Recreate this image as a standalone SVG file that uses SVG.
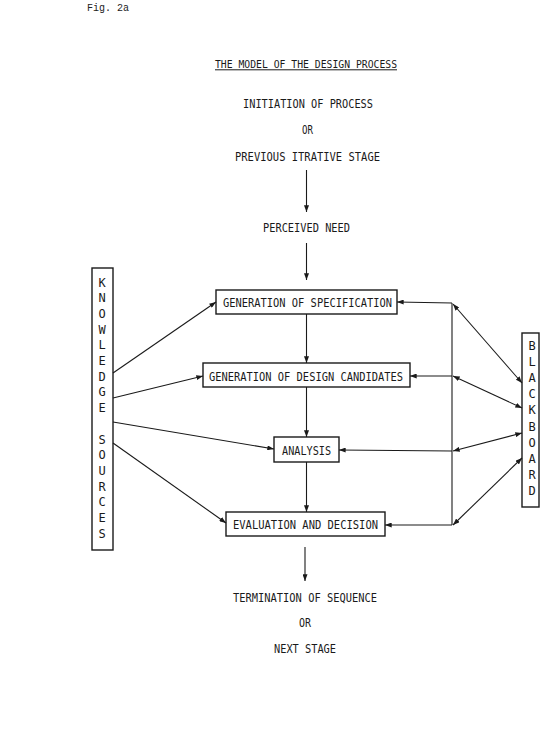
<svg xmlns="http://www.w3.org/2000/svg" width="540" height="742" viewBox="0 0 540 742">
<style>
  .t { font-family: "DejaVu Sans Mono", "Liberation Mono", monospace; font-size: 12px; fill: #1a1a1a; }
  .tt { font-family: "DejaVu Sans Mono", "Liberation Mono", monospace; font-size: 10.5px; fill: #1a1a1a; }
  .fig { font-family: "Liberation Mono", "Courier New", monospace; font-size: 10.5px; fill: #222; }
  .col { font-family: "DejaVu Sans Mono", "Liberation Mono", monospace; font-size: 12px; fill: #1a1a1a; text-anchor: middle; }
  .box { fill: #fff; stroke: #1a1a1a; stroke-width: 1.4; }
  .ln { fill: none; stroke: #1a1a1a; stroke-width: 1.1; }
</style>
<defs>
  <marker id="ah" viewBox="0 0 8 6" refX="8" refY="3" markerWidth="7" markerHeight="5" markerUnits="userSpaceOnUse" orient="auto-start-reverse">
    <path d="M0,0 L8,3 L0,6 z" fill="#1a1a1a"/>
  </marker>
</defs>
<rect width="540" height="742" fill="#fff"/>

<g id="fig-label"><text class="fig" x="87" y="11" textLength="42" lengthAdjust="spacingAndGlyphs">Fig. 2a</text></g>

<g id="title">
  <text class="tt" x="215" y="67.5" textLength="182" lengthAdjust="spacingAndGlyphs">THE MODEL OF THE DESIGN PROCESS</text>
  <line x1="215" y1="69.8" x2="397" y2="69.8" stroke="#1a1a1a" stroke-width="1"/>
</g>

<g id="start">
  <text class="t" x="243" y="107.5" textLength="130" lengthAdjust="spacingAndGlyphs">INITIATION OF PROCESS</text>
  <text class="t" x="302" y="133.5" textLength="11" lengthAdjust="spacingAndGlyphs">OR</text>
  <text class="t" x="235" y="160.5" textLength="145" lengthAdjust="spacingAndGlyphs">PREVIOUS ITRATIVE STAGE</text>
</g>

<g id="need"><text class="t" x="263" y="232" textLength="87" lengthAdjust="spacingAndGlyphs">PERCEIVED NEED</text></g>

<g id="gen-spec">
  <rect class="box" x="216" y="290" width="181" height="24"/>
  <text class="t" x="223" y="307" textLength="169" lengthAdjust="spacingAndGlyphs">GENERATION OF SPECIFICATION</text>
</g>

<g id="gen-design">
  <rect class="box" x="203" y="363" width="207" height="24"/>
  <text class="t" x="209" y="380.5" textLength="194" lengthAdjust="spacingAndGlyphs">GENERATION OF DESIGN CANDIDATES</text>
</g>

<g id="analysis">
  <rect class="box" x="274" y="437" width="65" height="25"/>
  <text class="t" x="282" y="455" textLength="49" lengthAdjust="spacingAndGlyphs">ANALYSIS</text>
</g>

<g id="evaluation">
  <rect class="box" x="226" y="512" width="159" height="24"/>
  <text class="t" x="233" y="529" textLength="145" lengthAdjust="spacingAndGlyphs">EVALUATION AND DECISION</text>
</g>

<g id="end">
  <text class="t" x="233" y="602" textLength="144" lengthAdjust="spacingAndGlyphs">TERMINATION OF SEQUENCE</text>
  <text class="t" x="299" y="627" textLength="12" lengthAdjust="spacingAndGlyphs">OR</text>
  <text class="t" x="274" y="653" textLength="62" lengthAdjust="spacingAndGlyphs">NEXT STAGE</text>
</g>

<g id="knowledge-sources">
  <rect class="box" x="92" y="268" width="21" height="282"/>
  <text class="col" x="102" y="286.5">K</text>
  <text class="col" x="102" y="302.2">N</text>
  <text class="col" x="102" y="317.9">O</text>
  <text class="col" x="102" y="333.6">W</text>
  <text class="col" x="102" y="349.3">L</text>
  <text class="col" x="102" y="365">E</text>
  <text class="col" x="102" y="380.7">D</text>
  <text class="col" x="102" y="396.4">G</text>
  <text class="col" x="102" y="412.1">E</text>
  <text class="col" x="102" y="443.5">S</text>
  <text class="col" x="102" y="459.2">O</text>
  <text class="col" x="102" y="474.9">U</text>
  <text class="col" x="102" y="490.6">R</text>
  <text class="col" x="102" y="506.3">C</text>
  <text class="col" x="102" y="522">E</text>
  <text class="col" x="102" y="537.7">S</text>
</g>

<g id="blackboard">
  <rect class="box" x="522" y="333" width="17" height="174"/>
  <text class="col" x="532" y="349.5">B</text>
  <text class="col" x="532" y="365.7">L</text>
  <text class="col" x="532" y="381.9">A</text>
  <text class="col" x="532" y="398.1">C</text>
  <text class="col" x="532" y="414.3">K</text>
  <text class="col" x="532" y="430.5">B</text>
  <text class="col" x="532" y="446.7">O</text>
  <text class="col" x="532" y="462.9">A</text>
  <text class="col" x="532" y="479.1">R</text>
  <text class="col" x="532" y="495.3">D</text>
</g>

<g id="connectors">
  <line class="ln" x1="306.5" y1="170" x2="306.5" y2="212" marker-end="url(#ah)"/>
  <line class="ln" x1="306.5" y1="243" x2="306.5" y2="280" marker-end="url(#ah)"/>
  <line class="ln" x1="306.5" y1="314" x2="306.5" y2="363" marker-end="url(#ah)"/>
  <line class="ln" x1="306.5" y1="387" x2="306.5" y2="437" marker-end="url(#ah)"/>
  <line class="ln" x1="306.5" y1="462" x2="306.5" y2="512" marker-end="url(#ah)"/>
  <line class="ln" x1="305" y1="547" x2="305" y2="581" marker-end="url(#ah)"/>

  <line class="ln" x1="113" y1="373" x2="216" y2="302" marker-end="url(#ah)"/>
  <line class="ln" x1="113" y1="398" x2="203" y2="376" marker-end="url(#ah)"/>
  <line class="ln" x1="113" y1="422" x2="274" y2="449" marker-end="url(#ah)"/>
  <line class="ln" x1="113" y1="443" x2="226" y2="523" marker-end="url(#ah)"/>

  <line class="ln" x1="452" y1="303" x2="452" y2="525"/>
  <line class="ln" x1="452" y1="303" x2="397" y2="302" marker-end="url(#ah)"/>
  <line class="ln" x1="452" y1="376" x2="410" y2="376" marker-end="url(#ah)"/>
  <line class="ln" x1="452" y1="451" x2="339" y2="450" marker-end="url(#ah)"/>
  <line class="ln" x1="452" y1="525" x2="385" y2="525" marker-end="url(#ah)"/>

  <line class="ln" x1="453" y1="304" x2="522" y2="383" marker-start="url(#ah)" marker-end="url(#ah)"/>
  <line class="ln" x1="453" y1="376" x2="522" y2="408" marker-start="url(#ah)" marker-end="url(#ah)"/>
  <line class="ln" x1="453" y1="451" x2="522" y2="433" marker-start="url(#ah)" marker-end="url(#ah)"/>
  <line class="ln" x1="453" y1="525" x2="522" y2="458" marker-start="url(#ah)" marker-end="url(#ah)"/>
</g>
</svg>
